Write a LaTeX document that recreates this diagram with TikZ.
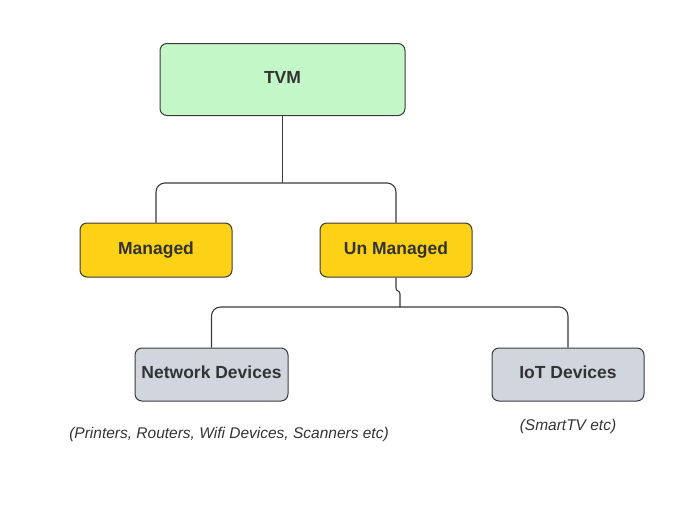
\documentclass[tikz,border=0pt]{standalone}
\usepackage{fontspec}
\setmainfont{Liberation Sans}
\definecolor{txt}{HTML}{333333}
\definecolor{edge}{HTML}{3A3A3A}
\definecolor{tvmgreen}{HTML}{C3F7C8}
\definecolor{mgyellow}{HTML}{FCD116}
\definecolor{devgray}{HTML}{D1D6DE}
\tikzset{
  box/.style={draw=edge, line width=1pt, rounded corners=7pt, inner sep=0pt,
    text=txt, text height=12.6pt, text depth=3.7pt,
    font=\fontsize{17.5}{20}\selectfont\bfseries},
  conn/.style={draw=edge, line width=1.1pt},
  note/.style={text=txt, font=\fontsize{15.5}{18}\selectfont\itshape}
}
\begin{document}
\begin{tikzpicture}[x=1pt,y=-1pt]
\useasboundingbox (0,0) rectangle (697,504);
\node[box, fill=tvmgreen, minimum width=245pt, minimum height=72pt] (tvm) at (282.5,79.5) {TVM};
\node[box, fill=mgyellow, minimum width=152pt, minimum height=54pt] (mg) at (156,250) {Managed};
\node[box, fill=mgyellow, minimum width=152pt, minimum height=54pt] (um) at (396,250) {Un Managed};
\node[box, fill=devgray, minimum width=153pt, minimum height=53pt] (nd) at (211.5,374.5) {Network Devices};
\node[box, fill=devgray, minimum width=152pt, minimum height=53pt] (iot) at (568,374.5) {IoT Devices};
\node[note] (ndnote) at (229,434) {(Printers, Routers, Wifi Devices, Scanners etc)};
\node[note] (iotnote) at (568,426) {(SmartTV etc)};
\coordinate (j1) at (282.5,183);
\coordinate (j2a) at (396,288);
\coordinate (j2b) at (400,294);
\coordinate (j2) at (400,307);
\draw[conn] (tvm.south) -- (j1);
\draw[conn, rounded corners=9pt] (mg.north) |- (j1) -| (um.north);
\draw[conn] (um.south) -- (j2a) .. controls (396,292) and (400,290) .. (j2b) -- (j2);
\draw[conn, rounded corners=9pt] (nd.north) |- (j2) -| (iot.north);
\end{tikzpicture}
\end{document}
